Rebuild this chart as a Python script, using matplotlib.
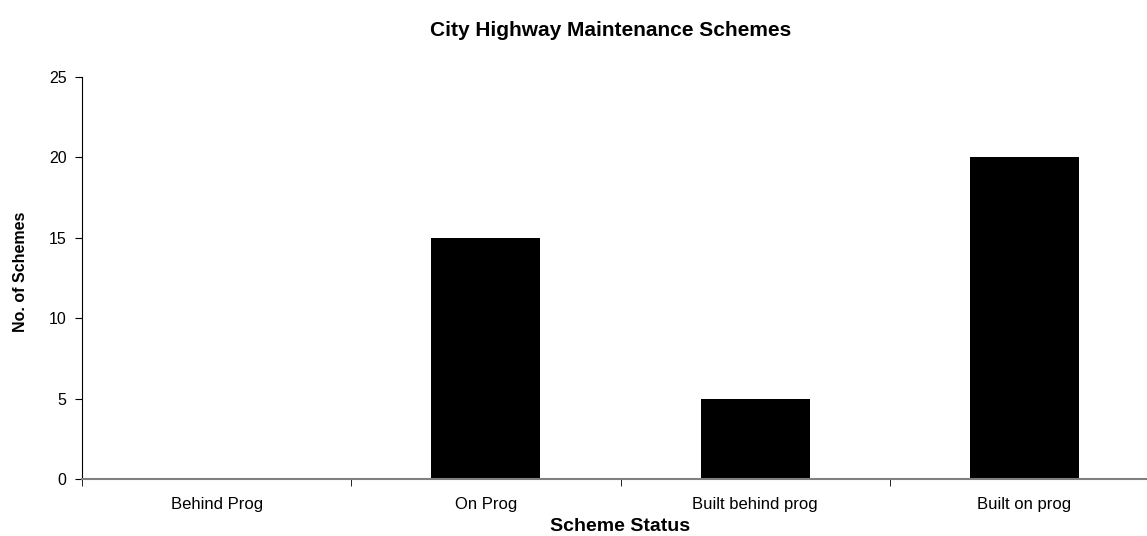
import matplotlib.pyplot as plt
import numpy as np

plt.rcParams['font.family'] = ['Liberation Sans', 'DejaVu Sans']

categories = ['Behind Prog', 'On Prog', 'Built behind prog', 'Built on prog']
schemes = [0, 15, 5, 20]

fig = plt.figure(figsize=(11.47, 5.36), dpi=100)
# axes run a little past the right edge, as in the source image
ax = fig.add_axes([82/1147, 1-479/536, 1077/1147, 402/536])

x = np.arange(len(categories))
ax.bar(x, schemes, width=0.405, color='black')

ax.set_xlim(-0.5, len(categories)-0.5)
ax.set_ylim(0, 25)
ax.set_yticks([0, 5, 10, 15, 20, 25])
ax.set_xticks(x)
ax.set_xticklabels(categories, fontsize=12)
ax.set_xticks(np.arange(len(categories)+1)-0.5, minor=True)
ax.tick_params(axis='x', which='major', length=0, pad=13)
ax.tick_params(axis='x', which='minor', length=5, direction='out', color='black')
ax.tick_params(axis='y', length=5, direction='out', labelsize=11.5, pad=6)

ax.spines['top'].set_visible(False)
ax.spines['right'].set_visible(False)
ax.spines['bottom'].set_color('#808080')
ax.spines['bottom'].set_linewidth(1.5)
ax.spines['left'].set_color('black')

ax.set_xlabel('Scheme Status', fontsize=14, fontweight='bold', labelpad=4)
ax.set_ylabel('No. of Schemes', fontsize=11.5, fontweight='bold')
ax.yaxis.set_label_coords(-0.05, 0.515)
fig.text(611/1147, 1-31/536, 'City Highway Maintenance Schemes', fontsize=15,
         fontweight='bold', ha='center', va='center')

fig.savefig('out.png', dpi=100)
